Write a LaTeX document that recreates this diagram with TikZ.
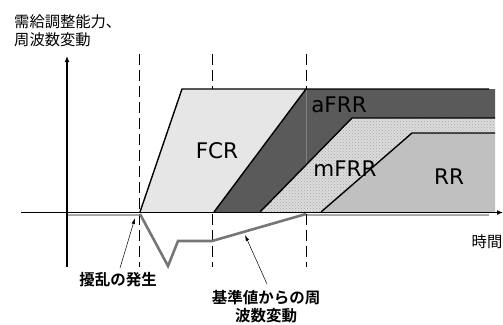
\documentclass[tikz,border=0pt]{standalone}
\usepackage{fontspec}
\setmainfont{DejaVu Sans}
\newfontfamily\jp{Noto Sans CJK JP}[BoldFont={Noto Sans CJK JP Bold}]
\usetikzlibrary{arrows.meta,patterns}
\definecolor{fcrc}{HTML}{E6E6E6}
\definecolor{afrrc}{HTML}{5A5A5A}
\definecolor{mfrrc}{HTML}{DCDCDC}
\definecolor{rrc}{HTML}{C0C0C0}
\definecolor{freqc}{HTML}{767676}
\definecolor{freqlc}{HTML}{A8A8A8}
\tikzset{
  edge/.style={line width=1.4pt, black},
  axisline/.style={line width=1.8pt, black, -{Latex[length=6pt,width=5pt]}},
  vdash/.style={line width=0.9pt, black, dash pattern=on 11pt off 5pt},
  freq/.style={line width=2.6pt, freqc, line join=miter},
  annot/.style={line width=0.5pt, black, -{Latex[length=6pt,width=3.5pt]}},
  lab/.style={font=\fontsize{21.5}{24}\selectfont, inner sep=0pt},
  jplab/.style={font=\jp\fontsize{15.3}{18}\selectfont, inner sep=0pt},
  jpbold/.style={font=\jp\bfseries\fontsize{15.5}{18}\selectfont, inner sep=0pt, align=center}
}
\begin{document}
\begin{tikzpicture}[x=1pt,y=-1pt]
\useasboundingbox (0,0) rectangle (503,324);
% dashed time markers
\draw[vdash] (139.5,54) -- (139.5,267);
\draw[vdash] (212,54) -- (212,267);
\draw[vdash] (306.5,54) -- (306.5,267);
% regions
\fill[fcrc] (140,212) -- (182,89) -- (306,89) -- (214,212) -- cycle;
\fill[afrrc] (214,212) -- (306,89) -- (495,89) -- (495,118) -- (352,118) -- (260,212) -- cycle;
\fill[mfrrc] (260,212) -- (352,118) -- (495,118) -- (495,133) -- (412,133) -- (321,212) -- cycle;
\fill[pattern=crosshatch dots, pattern color=gray!70] (260,212) -- (352,118) -- (495,118) -- (495,133) -- (412,133) -- (321,212) -- cycle;
\fill[rrc] (321,212) -- (412,133) -- (495,133) -- (495,212) -- cycle;
\draw[line width=0.6pt, gray] (306.5,89) -- (306.5,165);
% outlines
\draw[edge] (140,212) -- (182,89) -- (489,89);
\draw[edge] (214,212) -- (306,89);
\draw[edge] (260,212) -- (352,118) -- (495,118);
\draw[edge] (321,212) -- (412,133) -- (495,133);
% frequency deviation
\draw[line width=2pt, freqlc] (68,215) -- (139,215);
\draw[line width=2pt, freqlc] (307,215) -- (489,215);
\draw[freq] (140,214) -- (168,266) -- (178,241) -- (212,241) -- (306,214);
% axes
\draw[axisline] (21,212.5) -- (503,212.5);
\draw[axisline] (67,267) -- (67,56);
% labels
\node[lab] (fcr) at (217,151) {FCR};
\node[lab] (afrr) at (339,105) {aFRR};
\node[lab] (mfrr) at (345,169) {mFRR};
\node[lab] (rr) at (449,177) {RR};
\node[jplab, anchor=west] (yl1) at (14,22) {需給調整能力、};
\node[jplab, anchor=west] (yl2) at (14,40) {周波数変動};
\node[jplab] (xl) at (487,242) {時間};
\node[jpbold] (dist) at (118,280) {擾乱の発生};
\node[jpbold] (dev) at (266,307) {基準値からの周\\波数変動};
% annotation arrows
\coordinate (distT) at (135,218);
\coordinate (devT) at (245,235);
\draw[annot] (120,268) -- (distT);
\draw[annot] (267,284) -- (devT);
\end{tikzpicture}
\end{document}
